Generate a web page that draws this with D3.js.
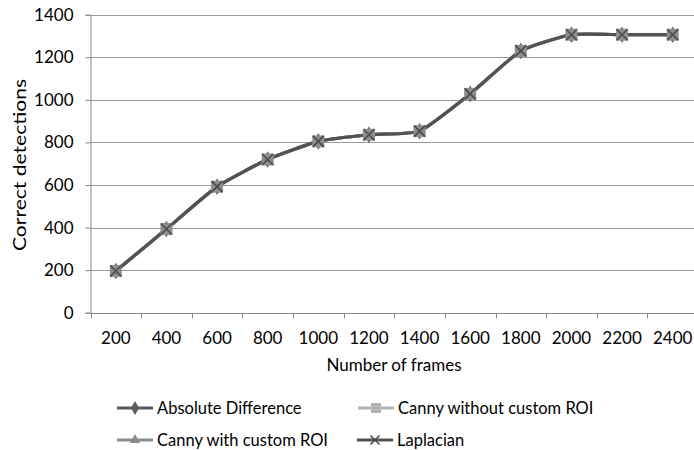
<!DOCTYPE html>
<html>
<head>
<meta charset="utf-8">
<script src="https://cdn.jsdelivr.net/npm/d3@7"></script>
<style>
  html, body { margin: 0; padding: 0; background: #fff; }
  svg { display: block; }
  text { font-family: Lato, "Open Sans", sans-serif; fill: #000; }
</style>
</head>
<body>
<svg id="chart" width="694" height="450"></svg>
<script>
// Frame counts on the x axis
const frames = ["200", "400", "600", "800", "1000", "1200", "1400", "1600", "1800", "2000", "2200", "2400"];
// Correct detections per method
const absoluteDifference = [196, 393, 592, 720, 805, 836, 853, 1028, 1230, 1306, 1306, 1306];
const cannyWithoutROI    = [196, 393, 592, 720, 805, 836, 853, 1028, 1230, 1306, 1306, 1306];
const cannyWithROI       = [196, 393, 592, 720, 805, 836, 853, 1028, 1230, 1306, 1306, 1306];
const laplacian          = [196, 393, 592, 720, 805, 836, 853, 1028, 1230, 1306, 1306, 1306];
const yTicks = [0, 200, 400, 600, 800, 1000, 1200, 1400];
const seriesNames = ["Absolute Difference", "Canny without custom ROI", "Canny with custom ROI", "Laplacian"];

const series = [
  { name: seriesNames[0], values: absoluteDifference, line: "#5a5a5a", marker: "diamond", fill: "#5a5a5a" },
  { name: seriesNames[1], values: cannyWithoutROI, line: "#b4b4b4", marker: "square", fill: "#b4b4b4" },
  { name: seriesNames[2], values: cannyWithROI, line: "#8c8c8c", marker: "triangle", fill: "#8c8c8c" },
  { name: seriesNames[3], values: laplacian, line: "#525252", marker: "x", fill: "none" }
];

const svg = d3.select("#chart");
const plotLeft = 90.5, plotRight = 698, plotTop = 14.7, plotBottom = 312.7;

const x = d3.scaleBand().domain(frames).range([plotLeft, plotRight]);
const y = d3.scaleLinear().domain([0, 1400]).range([plotBottom, plotTop]);

// Horizontal gridlines
svg.append("g")
  .selectAll("line")
  .data(yTicks.slice(1))
  .join("line")
  .attr("x1", plotLeft).attr("x2", 694)
  .attr("y1", d => Math.round(y(d)) + 0.5).attr("y2", d => Math.round(y(d)) + 0.5)
  .attr("stroke", "#9a9a9a").attr("stroke-width", 1);

// Y axis
const yAxis = svg.append("g")
  .attr("transform", `translate(${plotLeft},0)`)
  .call(d3.axisLeft(y).tickValues(yTicks).tickSize(5).tickPadding(12).tickFormat(d3.format("d")));
yAxis.select(".domain").attr("stroke", "#888");
yAxis.selectAll(".tick line").attr("stroke", "#888");
yAxis.selectAll("text").attr("font-size", 17).attr("font-family", "Lato, sans-serif");

// X axis with ticks on category boundaries
const xAxisG = svg.append("g").attr("transform", `translate(0,${Math.round(plotBottom) + 0.5})`);
xAxisG.append("line").attr("x1", plotLeft).attr("x2", 694).attr("y1", 0).attr("y2", 0).attr("stroke", "#888");
xAxisG.selectAll("line.tk")
  .data(frames)
  .join("line").attr("class", "tk")
  .attr("x1", d => Math.round(x(d)) + 0.5).attr("x2", d => Math.round(x(d)) + 0.5)
  .attr("y1", 0).attr("y2", 5).attr("stroke", "#888");
xAxisG.selectAll("text")
  .data(frames)
  .join("text")
  .attr("x", d => x(d) + x.bandwidth() / 2)
  .attr("y", 30)
  .attr("text-anchor", "middle")
  .attr("font-size", 17)
  .text(d => d);

// Axis titles
svg.append("text")
  .attr("transform", "translate(26,165) rotate(-90)")
  .attr("text-anchor", "middle")
  .attr("font-size", 17)
  .attr("textLength", 172)
  .attr("lengthAdjust", "spacingAndGlyphs")
  .text("Correct detections");
svg.append("text")
  .attr("x", 394).attr("y", 371)
  .attr("text-anchor", "middle")
  .attr("font-size", 17)
  .text("Number of frames");

const line = d3.line()
  .x((d, i) => x(frames[i]) + x.bandwidth() / 2)
  .y(d => y(d))
  .curve(d3.curveCardinal.tension(0.5));

function drawMarker(g, type, cx, cy, color, size) {
  if (type === "diamond") {
    g.append("path")
      .attr("d", d3.symbol(d3.symbolDiamond, size * size * 0.55)())
      .attr("transform", `translate(${cx},${cy})`)
      .attr("fill", color);
  } else if (type === "square") {
    g.append("rect")
      .attr("x", cx - size / 2).attr("y", cy - size / 2)
      .attr("width", size).attr("height", size)
      .attr("fill", color);
  } else if (type === "triangle") {
    g.append("path")
      .attr("d", d3.symbol(d3.symbolTriangle, size * size * 0.45)())
      .attr("transform", `translate(${cx},${cy})`)
      .attr("fill", color);
  } else if (type === "x") {
    const h = size / 2;
    g.append("path")
      .attr("d", `M${cx - h},${cy - h}L${cx + h},${cy + h}M${cx - h},${cy + h}L${cx + h},${cy - h}`)
      .attr("stroke", "#4a4a4a").attr("stroke-width", 1.6).attr("fill", "none");
  }
}

// Series lines and markers
const plot = svg.append("g");
series.forEach(s => {
  plot.append("path")
    .datum(s.values)
    .attr("d", line)
    .attr("fill", "none")
    .attr("stroke", s.line)
    .attr("stroke-width", 3.2);
});
series.forEach(s => {
  const g = plot.append("g");
  s.values.forEach((v, i) => {
    const cx = x(frames[i]) + x.bandwidth() / 2;
    const cy = y(v);
    const sz = s.marker === "x" ? 11 : 12;
    drawMarker(g, s.marker, cx, cy, s.marker === "square" ? "#8f8f8f" : s.fill, sz);
  });
});

// Legend
const legendItems = [
  { s: series[0], lx: 117, ly: 408 },
  { s: series[1], lx: 358, ly: 408 },
  { s: series[2], lx: 117, ly: 440 },
  { s: series[3], lx: 357, ly: 440 }
];
const lg = svg.append("g");
legendItems.forEach(it => {
  lg.append("line")
    .attr("x1", it.lx).attr("x2", it.lx + 36)
    .attr("y1", it.ly).attr("y2", it.ly)
    .attr("stroke", it.s.line).attr("stroke-width", 3);
  const mSize = it.s.marker === "x" ? 9 : 10;
  drawMarker(lg, it.s.marker, it.lx + 18, it.ly, it.s.fill === "none" ? "none" : it.s.line, mSize);
  lg.append("text")
    .attr("x", it.lx + 40).attr("y", it.ly + 6)
    .attr("font-size", 16.5)
    .text(it.s.name);
});
</script>
</body>
</html>
